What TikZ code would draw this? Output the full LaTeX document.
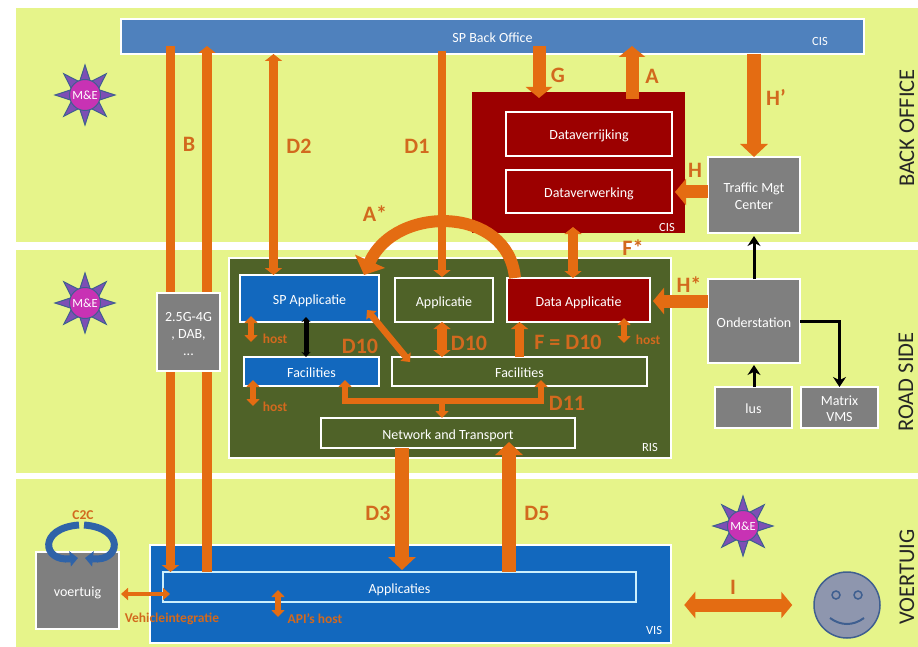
\documentclass[tikz,border=0pt]{standalone}
\usepackage{fontspec}
\usepackage{xcolor}
\usepackage{tikz}
\usetikzlibrary{arrows.meta,shapes.geometric}
\setmainfont{Carlito}
\definecolor{bandgreen}{HTML}{E6F48A}
\definecolor{officeblue}{HTML}{4F81BD}
\definecolor{visblue}{HTML}{1268BE}
\definecolor{cisred}{HTML}{9C0000}
\definecolor{risgreen}{HTML}{4F6228}
\definecolor{boxgray}{HTML}{7F7F7F}
\definecolor{flow}{HTML}{E46C12}
\definecolor{flowtext}{HTML}{D2691E}
\definecolor{starpurple}{HTML}{7D4FB5}
\definecolor{starline}{HTML}{3F5F90}
\definecolor{starcore}{HTML}{C832B4}
\definecolor{faceblue}{HTML}{8E96AE}
\definecolor{c2cblue}{HTML}{2F63A8}
\tikzset{
    band/.style={fill=bandgreen, inner sep=0pt, outer sep=0pt},
    box/.style={draw=white, line width=1.5pt, inner sep=0pt, outer sep=0pt, text=white, align=center, text height=12pt, text depth=0pt, font=\fontsize{14}{16.5}\selectfont},
    letter/.style={text=flowtext, inner sep=0pt, font=\bfseries\fontsize{22}{24}\selectfont},
    hosttext/.style={text=flowtext, inner sep=0pt, font=\bfseries\fontsize{13.5}{15}\selectfont},
    corner/.style={text=white, inner sep=0pt, font=\fontsize{12.5}{14}\selectfont},
    side/.style={rotate=90, text=black!85, inner sep=0pt, font=\fontsize{22.5}{24}\selectfont},
    mestar/.style={star, star points=8, star point ratio=2.1, minimum size=60pt, inner sep=0pt, fill=starpurple, draw=starline, line width=1pt},
    mecore/.style={circle, minimum size=31pt, inner sep=0pt, fill=starcore, draw=starline, line width=1pt, text=white, font=\fontsize{12.5}{14}\selectfont},
    facepart/.style={circle, fill=faceblue, draw=starline, line width=1.5pt, inner sep=0pt},
    flowxl/.style={draw=flow, line width=14pt, >={Triangle[width=27pt,length=13pt]}},
    flowl/.style={draw=flow, line width=13pt, >={Triangle[width=26pt,length=11pt]}},
    flowm/.style={draw=flow, line width=9.5pt, >={Triangle[width=17pt,length=7pt]}},
    flows/.style={draw=flow, line width=5.5pt, >={Triangle[width=13pt,length=7pt]}},
    flowxs/.style={draw=flow, line width=3.5pt, >={Triangle[width=12pt,length=7pt]}},
    blackarrow/.style={draw=black, line width=3pt, >={Stealth[width=13pt,length=10pt]}},
}

\begin{document}
\begin{tikzpicture}[x=1pt, y=-1pt]
    \useasboundingbox (0, 0) rectangle (918, 647);

    \node[band, minimum width=902pt, minimum height=234pt] (backband) at (467, 125) {};
    \node[band, minimum width=902pt, minimum height=223pt] (roadband) at (467, 361) {};
    \node[band, minimum width=902pt, minimum height=168pt] (carband) at (467, 563) {};

    \node[side] (backlabel) at (907, 128) {BACK OFFICE};
    \node[side] (roadlabel) at (906, 382) {ROAD SIDE};
    \node[side] (carlabel) at (907, 577) {VOERTUIG};

    \node[box, fill=officeblue, minimum width=743pt, minimum height=35pt] (back) at (492.5, 36.5) {SP Back Office};
    \node[corner] (backcis) at (820, 41) {CIS};

    \node[box, fill=cisred, draw=none, minimum width=213pt, minimum height=141pt] (cisbox) at (578.5, 162.5) {};
    \node[box, fill=cisred, minimum width=166pt, minimum height=44pt] (verrijking) at (589, 134) {Dataverrijking};
    \node[box, fill=cisred, minimum width=166pt, minimum height=43pt] (verwerking) at (589, 191.5) {Dataverwerking};
    \node[corner] (ciscorner) at (667, 227) {CIS};

    \node[box, fill=boxgray, minimum width=92pt, minimum height=76pt, text height=28.5pt] (tmc) at (754, 195) {Traffic Mgt\\Center};
    \node[box, fill=boxgray, minimum width=92pt, minimum height=84pt] (onder) at (754, 321) {Onderstation};
    \node[box, fill=boxgray, minimum width=77pt, minimum height=41pt] (lus) at (753.5, 407.5) {lus};
    \node[box, fill=boxgray, minimum width=77pt, minimum height=41pt, text height=28.5pt] (matrix) at (839.5, 407.5) {Matrix\\VMS};

    \node[box, fill=risgreen, minimum width=442pt, minimum height=200pt] (ris) at (450, 358) {};
    \node[corner] (riscorner) at (650, 447) {RIS};
    \node[box, fill=visblue, minimum width=139pt, minimum height=47pt] (spapp) at (309.5, 298.5) {SP Applicatie};
    \node[box, fill=risgreen, minimum width=98pt, minimum height=44pt] (app) at (444, 300) {Applicatie};
    \node[box, fill=cisred, minimum width=143pt, minimum height=44pt] (dataapp) at (578.5, 300) {Data Applicatie};
    \node[box, fill=visblue, minimum width=135pt, minimum height=29pt] (facblue) at (311.5, 371.5) {Facilities};
    \node[box, fill=risgreen, minimum width=255pt, minimum height=29pt] (facgreen) at (519.5, 371.5) {Facilities};
    \node[box, fill=risgreen, minimum width=254pt, minimum height=30pt] (network) at (448, 433) {Network and Transport};

    \node[box, fill=visblue, minimum width=521pt, minimum height=98pt] (vis) at (410.5, 594) {};
    \node[corner] (viscorner) at (654, 630) {VIS};
    \node[box, fill=visblue, draw=white!80!cyan, minimum width=473pt, minimum height=30pt] (apps) at (399.5, 587) {Applicaties};
    \node[box, fill=boxgray, minimum width=83pt, minimum height=77pt] (voertuig) at (77.5, 590.5) {voertuig};
    \node[facepart, minimum size=66pt] (smiley) at (847, 605) {};
    \node[facepart, minimum size=8pt] (eyeleft) at (836, 595) {};
    \node[facepart, minimum size=8pt] (eyeright) at (858, 595) {};

    \draw[draw=starline, line width=2pt] ([xshift=-17pt, yshift=-13pt]smiley.center) .. controls ([xshift=-6pt, yshift=-21pt]smiley.center) and ([xshift=6pt, yshift=-21pt]smiley.center) .. ([xshift=17pt, yshift=-13pt]smiley.center);

    \draw[flowm, ->] ([xshift=-322pt, yshift=8pt]back.south) -- ([xshift=7.5pt]apps.north west);
    \draw[flowm, ->] ([xshift=44pt]apps.north west) -- ([xshift=-285.5pt, yshift=8pt]back.south);
    \draw[flowm, <->] ([xshift=-219pt]back.south) -- ([xshift=33.5pt]spapp.north west);
    \draw[flowm, line width=8.5pt, ->] ([xshift=-50.5pt, yshift=3pt]back.south) -- ([xshift=-2pt, yshift=1pt]app.north);
    \draw[flowl, ->] ([xshift=46.5pt, yshift=8pt]back.south) -- ([xshift=-39.5pt, yshift=-6pt]cisbox.north);
    \draw[flowl, ->] ([xshift=53.5pt, yshift=-7pt]cisbox.north) -- ([xshift=139.5pt, yshift=8pt]back.south);
    \draw[flowxl, ->] ([xshift=261.5pt]back.south) -- (tmc.north);
    \draw[flowl, ->] ([yshift=3pt]tmc.west) -- ([xshift=-10pt, yshift=3pt]cisbox.east |- tmc.west);
    \draw[flowl, ->] ([yshift=20pt]onder.west) -- ([xshift=3pt, yshift=-1pt]dataapp.east);
    \draw[flowm, <->] ([xshift=-5.5pt, yshift=6pt]cisbox.south) -- ([xshift=-5.5pt]dataapp.north);

    \draw[draw=flow, line width=12pt, -{Triangle[width=32pt,length=15pt]}] ([xshift=-63.5pt]dataapp.north) .. controls (508, 205) and (395, 205) .. ([xshift=54.5pt]spapp.north);

    \draw[flows, <->] ([xshift=-58.5pt, yshift=6pt]spapp.south) -- ([xshift=-58.5pt, yshift=-20pt]spapp.south);
    \draw[flows, <->] ([xshift=-58.5pt, yshift=6pt]facblue.south) -- ([xshift=-58.5pt, yshift=-20pt]facblue.south);
    \draw[flows, <->] ([xshift=45.5pt, yshift=4pt]dataapp.south) -- ([xshift=45.5pt, yshift=-21pt]dataapp.south);
    \draw[blackarrow, line width=5pt, >={Stealth[width=9pt,length=5pt]}, <->] ([xshift=-3.5pt, yshift=5pt]spapp.south) -- ([xshift=-5.5pt]facblue.north);
    \draw[flows, line width=6.5pt, <->] ([xshift=-12pt, yshift=-11.5pt]spapp.east) -- ([xshift=-109.5pt, yshift=-5pt]facgreen.north);
    \draw[flowm, <->] ([xshift=-2pt]app.south) -- ([xshift=-77.5pt]facgreen.north);
    \draw[flowm, ->] (facgreen.north) -- ([xshift=-59pt]dataapp.south);

    \coordinate (d11split) at (442, 401);
    \draw[flows, <->] ([xshift=33.5pt, yshift=6pt]facblue.south) -- ([xshift=33.5pt]facblue.south |- d11split) -- ([xshift=21.5pt]facgreen.south |- d11split) -- ([xshift=21.5pt, yshift=6pt]facgreen.south);
    \draw[flows, line width=6.5pt, ->] (d11split) -- ([xshift=-6pt]network.north);

    \draw[flowxl, ->] ([xshift=-46pt]network.south) -- ([xshift=2.5pt, yshift=2pt]apps.north);
    \draw[flowxl, ->] ([xshift=109.5pt]apps.north) -- ([xshift=61pt, yshift=6pt]network.south);

    \draw[flowxs, <->] ([xshift=2pt, yshift=-3.5pt]voertuig.east) -- ([xshift=7pt, yshift=-7pt]apps.west);
    \draw[flows, <->] ([xshift=-121.5pt, yshift=12pt]apps.south) -- ([xshift=-121.5pt, yshift=-15pt]apps.south);
    \draw[flowl, <->] ([xshift=-129pt]smiley.west) -- ([xshift=-21pt]smiley.west);

    \node[box, fill=boxgray, minimum width=63pt, minimum height=78pt, text height=46pt, font=\fontsize{14}{17}\selectfont] (gsm) at (188.5, 332) {2.5G-4G\\, DAB,\\...};

    \draw[blackarrow, ->] (onder.north) -- ([yshift=-3pt]tmc.south);
    \draw[blackarrow, ->] ([xshift=0.5pt]lus.north) -- ([yshift=-2pt]onder.south);
    \draw[blackarrow, ->] (onder.east) -| (matrix.north);

    \coordinate (c2cleft) at (79, 525);
    \coordinate (c2cright) at (84, 525);
    \draw[draw=c2cblue, line width=7pt, -{Triangle[width=15pt,length=8pt]}] (c2cleft) .. controls (38, 528) and (42, 562) .. ([xshift=0.5pt, yshift=-6pt]voertuig.north);
    \draw[draw=c2cblue, line width=7pt, -{Triangle[width=15pt,length=8pt]}] (c2cright) .. controls (125, 528) and (121, 562) .. ([xshift=7.5pt, yshift=-6pt]voertuig.north);
    \node[hosttext] (c2c) at (83, 515) {C2C};

    \node[letter] (labelb) at (189, 144) {B};
    \node[letter] (labeldtwo) at (299, 146) {D2};
    \node[letter] (labeldone) at (417, 146) {D1};
    \node[letter] (labelastar) at (375, 214) {A*};
    \node[letter] (labelg) at (558, 75) {G};
    \node[letter] (labela) at (652, 76) {A};
    \node[letter] (labelhprime) at (776, 97) {H’};
    \node[letter] (labelh) at (695, 170) {H};
    \node[letter] (labelfstar) at (633, 248) {F*};
    \node[letter] (labelhstar) at (689, 285) {H*};
    \node[letter] (labeldtena) at (360, 346) {D10};
    \node[letter] (labeldtenb) at (469, 343) {D10};
    \node[letter] (labelf) at (568, 342) {F = D10};
    \node[letter] (labeldeleven) at (567, 403) {D11};
    \node[letter] (labeldthree) at (378, 513) {D3};
    \node[letter] (labeldfive) at (537, 513) {D5};
    \node[letter] (labeli) at (733, 587) {I};

    \node[hosttext] (hosta) at (275, 339) {host};
    \node[hosttext] (hostb) at (275, 407) {host};
    \node[hosttext] (hostc) at (648, 340) {host};
    \node[hosttext] (vehicle) at (172, 619) {Vehicleintegratie};
    \node[hosttext] (apihost) at (315, 619) {API's host};

    \foreach \nm/\x/\y in {mea/85/95, meb/85/303, mec/743/526} {
        \node[mestar] (\nm) at (\x, \y) {};
        \node[mecore] (\nm core) at (\nm) {M\&E};
    }
\end{tikzpicture}
\end{document}
